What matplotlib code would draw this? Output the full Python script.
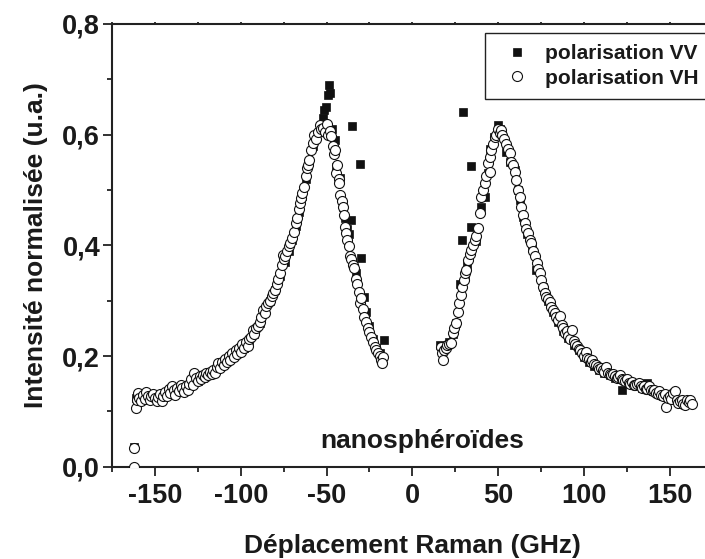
import matplotlib
matplotlib.use("Agg")
import matplotlib.pyplot as plt
from matplotlib.ticker import MultipleLocator, FuncFormatter

plt.rcParams['font.family'] = ['Liberation Sans', 'DejaVu Sans']
plt.rcParams['font.weight'] = 'bold'
plt.rcParams['axes.unicode_minus'] = False

# ---------------- data ----------------
# polarisation VH (open circles), Stokes-negative side
vh_left = [
    (-162, 0.000), (-162, 0.033), (-161, 0.106), (-160.5, 0.120), (-160, 0.133),
    (-159, 0.125), (-158, 0.118), (-157, 0.130), (-156, 0.122), (-155, 0.135),
    (-154, 0.128), (-153, 0.120), (-152, 0.127), (-151, 0.132), (-150, 0.124),
    (-149, 0.118), (-148, 0.126), (-147, 0.131), (-146, 0.118), (-145, 0.128),
    (-144, 0.135), (-143, 0.127), (-142, 0.140), (-141, 0.133), (-140, 0.145),
    (-139, 0.138), (-138, 0.130), (-137, 0.142), (-136, 0.137), (-135, 0.148),
    (-134, 0.142), (-133, 0.135), (-132, 0.146), (-131, 0.139), (-130, 0.150),
    (-129, 0.158), (-128, 0.147), (-127, 0.169), (-126, 0.160), (-125, 0.155),
    (-124, 0.163), (-123, 0.158), (-122, 0.166), (-121, 0.162), (-120, 0.170),
    (-119, 0.165), (-118, 0.172), (-117, 0.168), (-116, 0.175), (-115, 0.170),
    (-114, 0.180), (-113, 0.187), (-112, 0.178), (-111, 0.190), (-110, 0.184),
    (-109, 0.195), (-108, 0.190), (-107, 0.200), (-106, 0.193), (-105, 0.205),
    (-104, 0.198), (-103, 0.210), (-102, 0.203), (-101, 0.215), (-100, 0.208),
    (-99, 0.222), (-98, 0.215), (-97, 0.225), (-96, 0.218), (-95, 0.230),
    (-94, 0.235), (-93, 0.247), (-92, 0.240), (-91, 0.250), (-90, 0.255),
    (-89, 0.262), (-88, 0.270), (-87, 0.283), (-86, 0.278), (-85, 0.290),
    (-84, 0.295), (-83, 0.300), (-82, 0.308), (-81, 0.313), (-80, 0.320),
    (-79, 0.330), (-78, 0.340), (-77, 0.350), (-76, 0.365), (-75.5, 0.383),
    (-75, 0.375), (-74, 0.380), (-73, 0.390), (-72, 0.398), (-71, 0.405),
    (-70, 0.413), (-69, 0.425), (-68, 0.440), (-67, 0.450), (-66, 0.465),
    (-65.5, 0.476), (-65, 0.485), (-64, 0.495), (-63, 0.506), (-62, 0.525),
    (-61.5, 0.539), (-61, 0.545), (-60, 0.555), (-59, 0.572), (-58, 0.585),
    (-57, 0.600), (-56, 0.593), (-55, 0.605), (-54, 0.617), (-53, 0.610),
    (-52, 0.612), (-51, 0.605), (-50, 0.620), (-49, 0.600), (-48, 0.607),
    (-47.3, 0.597), (-46.5, 0.580), (-45.5, 0.565), (-45, 0.572), (-44.3, 0.530),
    (-44, 0.545), (-43, 0.520), (-42.5, 0.512), (-42, 0.491), (-41, 0.480),
    (-40.5, 0.470), (-40, 0.455), (-39.5, 0.434), (-38.5, 0.422), (-38, 0.410),
    (-37, 0.398), (-36.5, 0.380), (-35.5, 0.375), (-34.5, 0.365), (-33.7, 0.359),
    (-33, 0.340), (-32, 0.331), (-31, 0.316), (-30.5, 0.295), (-30, 0.305),
    (-29, 0.285), (-28, 0.271), (-27, 0.262), (-26, 0.250), (-25, 0.243),
    (-24, 0.235), (-23, 0.225), (-22, 0.217), (-21, 0.210), (-20, 0.205),
    (-19, 0.200), (-18, 0.193), (-17.2, 0.199), (-17.5, 0.187),
]

# polarisation VH, anti-Stokes side
vh_right = [
    (16.9, 0.217), (17.5, 0.205), (17.9, 0.193), (18.5, 0.210), (19.5, 0.215),
    (20.5, 0.220), (21.5, 0.222), (22.8, 0.223), (23.7, 0.241), (24.5, 0.250),
    (25.7, 0.259), (26.6, 0.280), (27.5, 0.295), (28.6, 0.310), (29.0, 0.325),
    (30.0, 0.337), (30.5, 0.350), (31.5, 0.355), (32.4, 0.374), (33.5, 0.385),
    (34.4, 0.392), (35.5, 0.400), (36.5, 0.410), (37.3, 0.416), (38.3, 0.431),
    (39.3, 0.458), (40.3, 0.488), (41.2, 0.500), (42.2, 0.512), (43.0, 0.525),
    (44.1, 0.548), (45.1, 0.533), (45.5, 0.560), (46.1, 0.572), (47.0, 0.584),
    (48.0, 0.595), (49.0, 0.600), (50.0, 0.610), (51.0, 0.603), (51.9, 0.608),
    (52.5, 0.600), (53.5, 0.592), (54.8, 0.584), (55.5, 0.575), (56.8, 0.566),
    (57.8, 0.551), (58.5, 0.545), (59.7, 0.533), (60.7, 0.518), (61.6, 0.500),
    (62.5, 0.488), (63.6, 0.470), (64.5, 0.455), (65.5, 0.440), (66.5, 0.430),
    (67.4, 0.422), (68.5, 0.410), (69.4, 0.404), (70.5, 0.390), (71.4, 0.380),
    (72.5, 0.368), (73.5, 0.358), (74.3, 0.350), (75.2, 0.338), (76.2, 0.325),
    (77.2, 0.313), (78.2, 0.307), (79, 0.303), (80, 0.298), (81, 0.289),
    (82, 0.283), (83, 0.278), (84, 0.270), (85, 0.265), (86, 0.272),
    (87, 0.256), (88, 0.250), (89, 0.241), (90, 0.245), (91, 0.236),
    (92, 0.230), (93, 0.247), (94, 0.228), (95, 0.222), (96, 0.218),
    (97, 0.213), (98, 0.210), (99, 0.205), (100, 0.200), (101, 0.208),
    (102, 0.197), (103, 0.194), (104, 0.190), (105, 0.192), (106, 0.186),
    (107, 0.183), (108, 0.180), (109, 0.177), (110, 0.179), (111, 0.174),
    (112, 0.172), (113, 0.181), (114, 0.170), (115, 0.167), (116, 0.165),
    (117, 0.168), (118, 0.163), (119, 0.160), (120, 0.162), (121, 0.165),
    (122, 0.158), (123, 0.156), (124, 0.155), (125, 0.158), (126, 0.152),
    (127, 0.150), (128, 0.153), (129, 0.148), (130, 0.147), (131, 0.150),
    (132, 0.151), (133, 0.145), (134, 0.143), (135, 0.146), (136, 0.141),
    (137, 0.140), (138, 0.145), (139, 0.138), (140, 0.136), (141, 0.139),
    (142, 0.134), (143, 0.132), (144, 0.136), (145, 0.130), (146, 0.127),
    (147, 0.131), (148, 0.108), (149, 0.125), (150, 0.128), (151, 0.122),
    (152, 0.133), (153, 0.137), (154, 0.120), (155, 0.115), (156, 0.118),
    (157, 0.121), (158, 0.114), (159, 0.112), (160, 0.120), (161, 0.117),
    (162, 0.120), (163, 0.113),
]

# polarisation VV (filled squares)
vv_left = [
    (-162, 0.036), (-161, 0.125), (-158, 0.130), (-155, 0.128), (-152, 0.125),
    (-149, 0.130), (-146, 0.128), (-143, 0.132), (-140, 0.138), (-137, 0.140),
    (-134, 0.138), (-131, 0.145), (-128, 0.150), (-125, 0.155), (-122, 0.160),
    (-119, 0.165), (-116, 0.170), (-113, 0.180), (-110, 0.185), (-107, 0.195),
    (-104, 0.200), (-101, 0.210), (-98, 0.215), (-95, 0.228), (-92, 0.240),
    (-89, 0.260), (-86, 0.280), (-83, 0.300), (-80, 0.320), (-77, 0.345),
    (-74, 0.370), (-72, 0.390), (-70, 0.410), (-68, 0.435), (-66, 0.460),
    (-64, 0.490), (-62, 0.520), (-60, 0.550), (-58, 0.580), (-56, 0.600),
    (-54, 0.615), (-52, 0.630), (-51.2, 0.645), (-50.5, 0.650), (-49, 0.672),
    (-48.6, 0.690), (-48, 0.675), (-47, 0.610), (-45.3, 0.590), (-44.3, 0.542),
    (-42.4, 0.521), (-40.5, 0.470), (-39.5, 0.449), (-38, 0.430), (-36.6, 0.420),
    (-35.6, 0.446), (-35.0, 0.616), (-33, 0.350), (-30.7, 0.547), (-29.8, 0.378),
    (-28.4, 0.307), (-27, 0.280), (-25, 0.255), (-23, 0.230), (-21, 0.215),
    (-19, 0.205), (-16.7, 0.229),
]

vv_right = [
    (15.9, 0.220), (17.5, 0.215), (19.5, 0.218), (21.5, 0.225), (23.5, 0.240),
    (25.5, 0.260), (27.6, 0.331), (28.9, 0.410), (29.5, 0.641), (30.5, 0.345),
    (32.0, 0.365), (34.0, 0.544), (34.4, 0.434), (37.0, 0.407), (40.3, 0.470),
    (42.2, 0.488), (44.1, 0.530), (45.1, 0.575), (47.5, 0.595), (50.0, 0.618),
    (51.0, 0.610), (52.5, 0.600), (54.8, 0.569), (57.0, 0.550), (59.7, 0.536),
    (61.6, 0.500), (62.6, 0.482), (64.5, 0.452), (67.0, 0.420), (69.5, 0.395),
    (72.3, 0.355), (76.2, 0.325), (79, 0.300), (82, 0.280), (85, 0.262),
    (88, 0.245), (91, 0.232), (94, 0.220), (97, 0.210), (100, 0.198),
    (103, 0.190), (106, 0.182), (109, 0.175), (112, 0.170), (115, 0.165),
    (118, 0.160), (122, 0.139), (125, 0.155), (128, 0.150), (131, 0.147),
    (134, 0.143), (136.5, 0.151), (140, 0.137), (143, 0.133), (146, 0.128),
    (149, 0.124), (152, 0.121), (155, 0.118), (158, 0.116), (161, 0.114),
]

x_ticks = [-150, -100, -50, 0, 50, 100, 150]
y_ticks = [0.0, 0.2, 0.4, 0.6, 0.8]
x_label = "Déplacement Raman (GHz)"
y_label = "Intensité normalisée (u.a.)"
series_labels = ["polarisation VV", "polarisation VH"]
annotation = "nanosphéroïdes"

# ---------------- figure ----------------
W, H = 705, 559
fig = plt.figure(figsize=(W / 100, H / 100), dpi=100)
ax = fig.add_axes([112 / W, (H - 466.7) / H, (712.6 - 112) / W, (466.7 - 24) / H])

vv = vv_left + vv_right
vh = vh_left + vh_right
ax.plot([p[0] for p in vv], [p[1] for p in vv], linestyle='none', marker='s',
        ms=5.8, mfc='#111111', mec='#111111', mew=0.5, label=series_labels[0], zorder=2)
ax.plot([p[0] for p in vh], [p[1] for p in vh], linestyle='none', marker='o',
        ms=7.2, mfc='white', mec='#111111', mew=0.8, label=series_labels[1], zorder=3)

ax.set_xlim(-175, 175)
ax.set_ylim(0, 0.8)
ax.set_xticks(x_ticks)
ax.set_yticks(y_ticks)
ax.xaxis.set_minor_locator(MultipleLocator(25))
ax.yaxis.set_minor_locator(MultipleLocator(0.1))
ax.xaxis.set_major_formatter(FuncFormatter(lambda v, p: f"{v:.0f}"))
ax.yaxis.set_major_formatter(FuncFormatter(lambda v, p: f"{v:.1f}".replace('.', ',')))

for s in ax.spines.values():
    s.set_linewidth(1.5)
    s.set_color('#222222')

ax.tick_params(axis='both', which='major', direction='out', length=6.5, width=1.3,
               labelsize=19.5, colors='#222222', labelcolor='#1a1a1a')
ax.tick_params(axis='both', which='minor', direction='out', length=3.6, width=1.3,
               colors='#222222')
ax.tick_params(axis='x', which='both', top=True, pad=5)
ax.tick_params(axis='y', which='major', pad=2)
ax.xaxis.set_tick_params(which='both', labeltop=False)
for t in ax.xaxis.get_ticklines(minor=False)[1::2] + ax.xaxis.get_ticklines(minor=True)[1::2]:
    t.set_markersize(1.5)

ax.set_xlabel(x_label, fontsize=19, fontweight='bold', color='#1a1a1a', labelpad=18)
ax.set_ylabel(y_label, fontsize=19, fontweight='bold', color='#1a1a1a', labelpad=10)

ax.text(5.7, 0.034, annotation, ha='center', va='baseline', fontsize=19,
        fontweight='bold', color='#1a1a1a')

leg = ax.legend(loc='upper left', bbox_to_anchor=(485 / W, 1 - 33 / H),
                bbox_transform=fig.transFigure, borderaxespad=0, fontsize=15,
                frameon=True, fancybox=False, edgecolor='#222222', framealpha=1,
                handlelength=2.0, handletextpad=0.35, borderpad=0.55,
                labelspacing=0.25, markerscale=1.0)
leg.get_frame().set_linewidth(1.0)
for t in leg.get_texts():
    t.set_fontweight('bold')
    t.set_color('#1a1a1a')

fig.savefig("out.png", dpi=100)
